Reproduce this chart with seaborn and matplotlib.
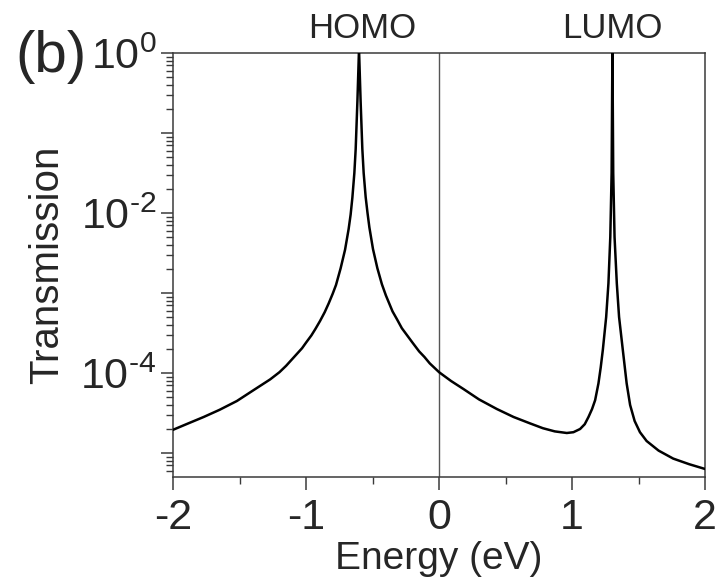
import matplotlib
matplotlib.use("Agg")
import matplotlib.pyplot as plt
import matplotlib.ticker as ticker
import seaborn as sns
import numpy as np
import pandas as pd

# energy (eV) and log10 of transmission
energy = [-2.0, -1.9, -1.77, -1.65, -1.52, -1.4, -1.27, -1.2, -1.15, -1.09,
          -1.03, -1.0, -0.96, -0.93, -0.895, -0.86, -0.83, -0.80, -0.775,
          -0.74, -0.707, -0.68, -0.665, -0.652, -0.637, -0.627, -0.614,
          -0.602, -0.59, -0.577, -0.567, -0.552, -0.538, -0.524, -0.497,
          -0.464, -0.43, -0.40, -0.375, -0.35, -0.316, -0.28, -0.24, -0.20,
          -0.15, -0.11, -0.07, 0.0, 0.09, 0.183, 0.3, 0.434, 0.56, 0.684,
          0.78, 0.87, 0.96, 1.01, 1.06, 1.095, 1.123, 1.15, 1.173, 1.198,
          1.215, 1.231, 1.256, 1.273, 1.287, 1.297, 1.303, 1.309, 1.319,
          1.336, 1.353, 1.381, 1.41, 1.436, 1.47, 1.51, 1.56, 1.65, 1.76,
          1.88, 2.0]
log_trans = [-4.71, -4.64, -4.55, -4.46, -4.35, -4.22, -4.08, -3.99, -3.91, -3.80,
             -3.69, -3.62, -3.53, -3.45, -3.35, -3.24, -3.13, -3.01, -2.9,
             -2.69, -2.46, -2.2, -2.02, -1.81, -1.5, -1.2, -0.6,
             0.05, -0.6, -1.2, -1.5, -1.8, -2.0, -2.18, -2.45,
             -2.69, -2.89, -3.03, -3.13, -3.23, -3.33, -3.44, -3.53, -3.62,
             -3.73, -3.80, -3.88, -3.99, -4.1, -4.2, -4.33, -4.45, -4.55, -4.63,
             -4.69, -4.73, -4.75, -4.74, -4.70, -4.64, -4.55, -4.45, -4.34, -4.13,
             -3.93, -3.71, -3.30, -2.88, -2.3, -1.5, 0.05, -1.5, -2.3,
             -2.88, -3.30, -3.71, -4.13, -4.4, -4.6, -4.74, -4.85, -4.97, -5.07,
             -5.14, -5.2]

peak_names = ["HOMO", "LUMO"]
peak_pos = [-0.58, 1.30]

df = pd.DataFrame({"energy": energy, "transmission": np.power(10.0, log_trans)})

sns.set_style("ticks")
plt.rcParams["font.family"] = ["Liberation Sans", "DejaVu Sans"]
plt.rcParams["mathtext.fontset"] = "custom"
plt.rcParams["mathtext.rm"] = "Liberation Sans"
plt.rcParams["mathtext.it"] = "Liberation Sans:italic"
plt.rcParams["axes.unicode_minus"] = False

edge = "#3a3a3a"

fig = plt.figure(figsize=(7.21, 5.87), dpi=100)
ax = fig.add_axes([0.240, 0.1874, 0.738, 0.7223])

ax.axvline(0, color="#555555", lw=1.0, zorder=1)
sns.lineplot(data=df, x="energy", y="transmission", color="black", lw=1.8,
             ax=ax, zorder=3)

ax.set_yscale("log")
ax.set_xlim(-2, 2)
ax.set_ylim(10 ** -5.3, 1)

ax.xaxis.set_major_locator(ticker.MultipleLocator(1))
ax.xaxis.set_minor_locator(ticker.MultipleLocator(0.5))
ax.yaxis.set_major_locator(ticker.LogLocator(base=10, numticks=20))
ax.yaxis.set_minor_locator(ticker.LogLocator(base=10, subs=np.arange(2, 10), numticks=20))


def fmt_y(v, pos):
    e = int(round(np.log10(v)))
    if e % 2 == 0:
        return r"$10^{\text{%d}}$" % e
    return ""


ax.yaxis.set_major_formatter(ticker.FuncFormatter(fmt_y))
ax.yaxis.set_minor_formatter(ticker.NullFormatter())

ax.tick_params(which="major", direction="out", length=9, width=1.1,
               color=edge, labelsize=31, pad=3)
ax.tick_params(which="minor", direction="out", length=5, width=1.0, color=edge)
ax.tick_params(axis="x", which="major", pad=6)

for s in ax.spines.values():
    s.set_color(edge)
    s.set_linewidth(1.1)

ax.set_xlabel("Energy (eV)", fontsize=28, labelpad=2)
ax.set_ylabel("Transmission", fontsize=29, labelpad=10)

for name, xp in zip(peak_names, peak_pos):
    ax.text(xp, 1.035, name, transform=ax.get_xaxis_transform(),
            ha="center", va="baseline", fontsize=25)

fig.text(0.022, 0.877, "(b)", fontsize=42, va="baseline", ha="left")

fig.savefig("out.png", dpi=100)
